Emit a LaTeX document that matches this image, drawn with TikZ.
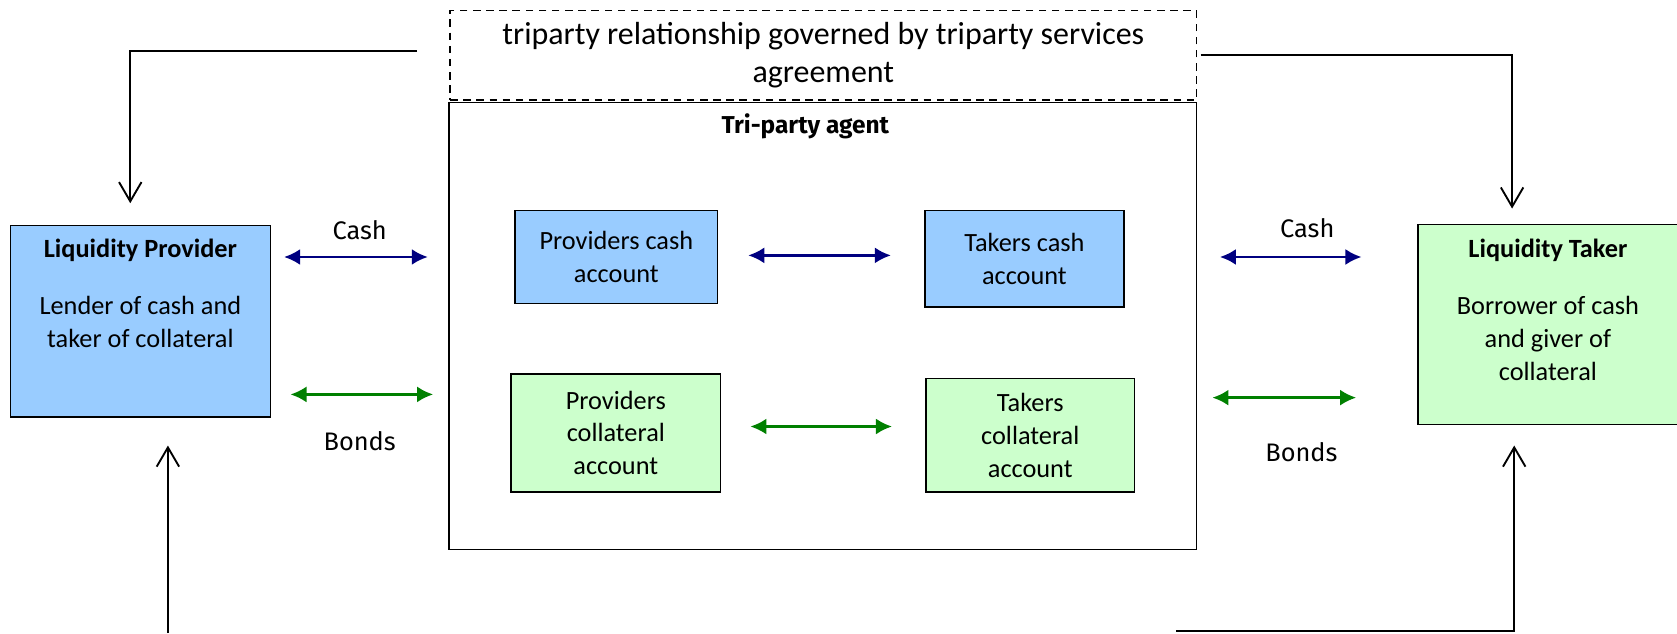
\documentclass[tikz,border=0pt]{standalone}
\usepackage{fontspec}
\setmainfont{Carlito}
\newfontfamily\labelfont{Fira Sans}
\usetikzlibrary{calc,arrows.meta}
\definecolor{cashfill}{HTML}{99CCFF}
\definecolor{bondfill}{HTML}{CCFFCC}
\definecolor{cashline}{HTML}{000080}
\definecolor{bondline}{HTML}{008000}

\begin{document}
\begin{tikzpicture}[box/.style={draw,line width=0.9pt,inner sep=0pt,anchor=north west,font={\fontsize{14}{17.5}\selectfont}},
                    party/.style={box},
                    account/.style={box,align=center},
                    flow/.style={{Latex[length=3mm,width=3mm]}-{Latex[length=3mm,width=3mm]},line width=1.4pt},
                    cashflow/.style={flow,cashline},
                    bondflow/.style={flow,bondline},
                    link/.style={-{Straight Barb[length=3.6mm,width=4.2mm]},line width=1pt},
                    flowlabel/.style={text=black,font={\labelfont\fontsize{13.5}{16}\selectfont}}]
    \useasboundingbox (0,0) rectangle (31.36,-11.84);

    \node[box,dash pattern=on 4pt off 3pt,minimum width=13.96cm,minimum height=1.68cm,align=center,font={\fontsize{17}{20.5}\selectfont}] (relation) at (8.40,-0.18) {
        triparty relationship governed by triparty services\\
        agreement
    };
    \node[box,minimum width=13.98cm,minimum height=8.36cm] (agent) at (8.38,-1.90) {};
    \node[font={\labelfont\bfseries\fontsize{13}{16}\selectfont}] (agentname) at (15.06,-2.36) {Tri-party agent};

    \node[party,fill=cashfill] (provider) at (0.18,-4.20) {
        \parbox[c][3.58cm][t]{4.86cm}{
            \centering
            \vspace{0.25cm}
            \textbf{Liquidity Provider}\\[13pt]
            Lender of cash and\\
            taker of collateral
        }
    };

    \node[party,fill=bondfill] (taker) at (26.50,-4.18) {
        \parbox[c][3.74cm][t]{4.86cm}{
            \centering
            \vspace{0.27cm}
            \textbf{Liquidity Taker}\\[13pt]
            Borrower of cash\\
            and giver of\\
            collateral
        }
    };

    \node[account,fill=cashfill,minimum width=3.78cm,minimum height=1.74cm] (provcash) at (9.62,-3.92) {Providers cash\\account};
    \node[account,fill=cashfill,minimum width=3.72cm,minimum height=1.80cm] (takcash) at (17.28,-3.92) {Takers cash\\account};
    \node[account,fill=bondfill,minimum width=3.92cm,minimum height=2.20cm] (provcoll) at (9.54,-6.98) {Providers\\collateral\\account};
    \node[account,fill=bondfill,minimum width=3.90cm,minimum height=2.12cm] (takcoll) at (17.30,-7.06) {Takers\\collateral\\account};

    \draw[cashflow,shorten <=0.24cm,shorten >=0.38cm] (provider.east |- provcash) -- (agent.west |- provcash)
        node[flowlabel,midway,yshift=0.5cm] {Cash};
    \draw[cashflow,shorten <=0.56cm,shorten >=0.62cm] ([yshift=0.03cm]provcash.east) -- ([yshift=0.03cm]provcash.east -| takcash.west);
    \draw[cashflow,shorten <=0.42cm,shorten >=1.04cm] (agent.east |- provcash) -- (taker.west |- provcash)
        node[flowlabel,midway,yshift=0.54cm] {Cash};

    \draw[bondflow,shorten <=0.36cm,shorten >=0.28cm] ([yshift=-1.37cm]provider.east) -- ([yshift=-1.37cm]provider.east -| agent.west)
        node[flowlabel,midway,yshift=-0.88cm] {Bonds};
    \draw[bondflow,shorten <=0.54cm,shorten >=0.62cm] ([yshift=0.12cm]provcoll.east) -- ([yshift=0.12cm]provcoll.east -| takcoll.west);
    \draw[bondflow,shorten <=0.28cm,shorten >=1.14cm] ([yshift=-1.37cm]taker.west -| agent.east) -- ([yshift=-1.37cm]taker.west)
        node[flowlabel,midway,xshift=-0.11cm,yshift=-1.02cm] {Bonds};

    \draw[link,shorten <=0.6cm,shorten >=0.4cm] ([yshift=0.08cm]relation.west) -| ([xshift=-0.19cm]provider.north);
    \draw[link,shorten <=0.06cm,shorten >=0.28cm] (relation.east) -| ([xshift=-0.67cm]taker.north);

    \coordinate (providerfoot) at (3.14,-11.84);
    \draw[link,shorten >=0.52cm] (providerfoot) -- (providerfoot |- provider.south);
    \coordinate (takerfoot) at (22.00,-11.80);
    \draw[link,shorten >=0.38cm] (takerfoot) -| ([xshift=-0.63cm]taker.south);
\end{tikzpicture}
\end{document}
